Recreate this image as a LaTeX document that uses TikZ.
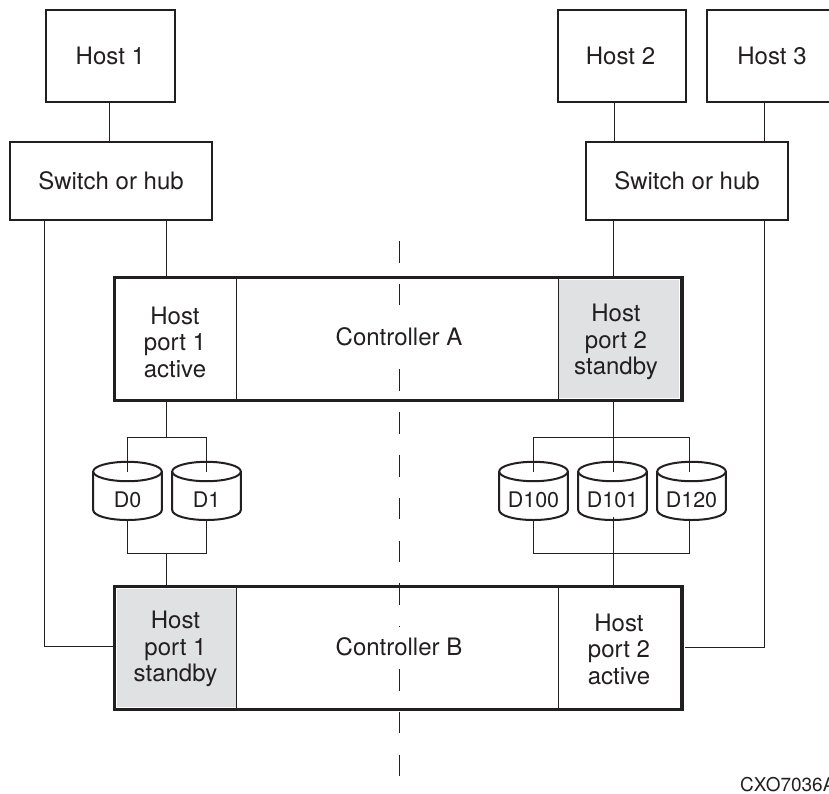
\documentclass[tikz,border=0pt]{standalone}
\usepackage{fontspec}
\setmainfont{TeX Gyre Heros}
\definecolor{ink}{HTML}{231F20}
\definecolor{shade}{HTML}{E0E1E3}
\tikzset{
 x=1pt,y=-1pt,
 every node/.style={text=ink,font=\fontsize{24}{26.5}\selectfont,align=center,inner sep=0pt},
 box/.style={draw=ink,line width=2pt,fill=white},
 ctrl/.style={draw=ink,line width=3.2pt},
 cell/.style={draw=ink,line width=1.3pt},
 link/.style={draw=ink,line width=1.3pt},
 axis/.style={draw=ink,line width=1.3pt,dash pattern=on 21.5pt off 21.3pt},
 drumline/.style={draw=ink,line width=2pt,fill=white},
 disklabel/.style={font=\fontsize{21.5}{24}\selectfont}
}
\newcommand{\drum}[3]{% name, centre x, label
 \draw[drumline] (#2-34.3,472) -- (#2-34.3,510) .. controls (#2-34.3,516) and (#2-18,520) .. (#2,520) .. controls (#2+18,520) and (#2+34.3,516) .. (#2+34.3,510) -- (#2+34.3,472);
 \draw[drumline] (#2,471.5) ellipse [x radius=34.3,y radius=9.7];
 \node[disklabel] (#1) at (#2,500) {#3};
}
\begin{document}
\begin{tikzpicture}
\useasboundingbox (0,0) rectangle (829,793);
% junction coordinates
\coordinate (xh1) at (109.5,0);
\coordinate (xh2) at (614.5,0);
\coordinate (xh3) at (764.5,0);
\coordinate (xl) at (44.5,0);
\coordinate (xa) at (166.5,0);
\coordinate (xb) at (613.5,0);
\coordinate (xr) at (764.5,0);
\coordinate (busTop) at (0,437.5);
\coordinate (busBot) at (0,553.5);
\coordinate (inTop) at (0,471.7);
\coordinate (inBot) at (0,520);
\coordinate (inBotMid) at (0,517);
\coordinate (x0) at (127.5,0);
\coordinate (x1) at (206.5,0);
\coordinate (x100) at (533.5,0);
\coordinate (x120) at (689.5,0);
\coordinate (yl) at (0,646.5);
\coordinate (yr) at (0,647.5);
% centre line
\draw[axis] (399.5,241) -- (399.5,776.6);
% hosts and switches
\node[box,minimum width=129pt,minimum height=92pt] (h1) at (110.3,56) {Host 1};
\node[box,minimum width=128pt,minimum height=92pt] (h2) at (622,56) {};
\node (h2t) at (620.5,56) {Host 2};
\node[box,minimum width=130pt,minimum height=92pt] (h3) at (772,56) {Host 3};
\node[box,minimum width=202pt,minimum height=78pt] (s1) at (111,180.8) {Switch or hub};
\node[box,minimum width=202pt,minimum height=78pt] (s2) at (687,180.8) {Switch or hub};
% controller A
\node[fill=shade,minimum width=120.5pt,minimum height=118pt] (a2s) at (618.8,338.5) {};
\node[minimum width=121pt,minimum height=122.8pt] (a1) at (176,338.9) {};
\node[minimum width=123.8pt,minimum height=122.8pt] (a2) at (620.4,338.9) {};
\draw[cell] (a1.north east) -- (a1.south east);
\draw[cell] (a2.north west) -- (a2.south west);
\node[fill=white,minimum height=28pt] (ca) at (399,336.7) {Controller A};
\node[draw=none,minimum width=566.8pt,minimum height=122.8pt] (coa) at (398.4,338.9) {};
\draw[ctrl] (coa.south west) rectangle (coa.north east);
\node (a1t) at (175,342) {Host\\port 1\\active};
\node (a2t) at (616,342) {Host\\port 2\\standby};
% controller B
\node[fill=shade,minimum width=120pt,minimum height=118pt] (b1s) at (176.5,648) {};
\node[minimum width=121pt,minimum height=123pt] (b1) at (176,648) {};
\node[minimum width=123.8pt,minimum height=123pt] (b2) at (620.4,648) {};
\draw[cell] (b1.north east) -- (b1.south east);
\draw[cell] (b2.north west) -- (b2.south west);
\node[fill=white,minimum height=39.5pt] (cb) at (399,646.7) {Controller B};
\node[draw=none,minimum width=566.8pt,minimum height=123pt] (cob) at (398.4,648) {};
\draw[ctrl] (cob.south west) rectangle (cob.north east);
\node (b1t) at (175.5,649) {Host\\port 1\\standby};
\node (b2t) at (619,649) {Host\\port 2\\active};
% disks
\drum{d0}{127.5}{D0}
\drum{d1}{206.5}{D1}
\drum{d100}{533.5}{D100}
\drum{d101}{612.5}{D101}
\drum{d120}{691.5}{D120}
% connectors
\draw[link] (h1.south -| xh1) -- (s1.north -| xh1);
\draw[link] (h2.south -| xh2) -- (s2.north -| xh2);
\draw[link] (h3.south -| xh3) -- (s2.north -| xh3);
\draw[link] (s1.south -| xa) -- (coa.north -| xa);
\draw[link] (s2.south -| xb) -- (coa.north -| xb);
\draw[link] (s1.south -| xl) |- (cob.west |- yl);
\draw[link,shorten >=3pt] (s2.south -| xr) |- (cob.east |- yr);
% disk buses, controller A side
\draw[link] (coa.south -| xa) -- (busTop -| xa);
\draw[link] (inTop -| x0) -- (busTop -| x0) -- (busTop -| x1) -- (inTop -| x1);
\draw[link] (coa.south -| xb) -- (inTop -| xb);
\draw[link] (inTop -| x100) -- (busTop -| x100) -- (busTop -| x120) -- (inTop -| x120);
% disk buses, controller B side
\draw[link] (inBot -| x0) -- (busBot -| x0) -- (busBot -| x1) -- (inBot -| x1);
\draw[link] (busBot -| xa) -- (cob.north -| xa);
\draw[link] (inBotMid -| xb) -- (cob.north -| xb);
\draw[link] (inBot -| x100) -- (busBot -| x100) -- (busBot -| x120) -- (inBot -| x120);
% figure code
\node[anchor=base west,font=\fontsize{19}{22}\selectfont] (code) at (740,791) {CXO7036A};
\end{tikzpicture}
\end{document}
